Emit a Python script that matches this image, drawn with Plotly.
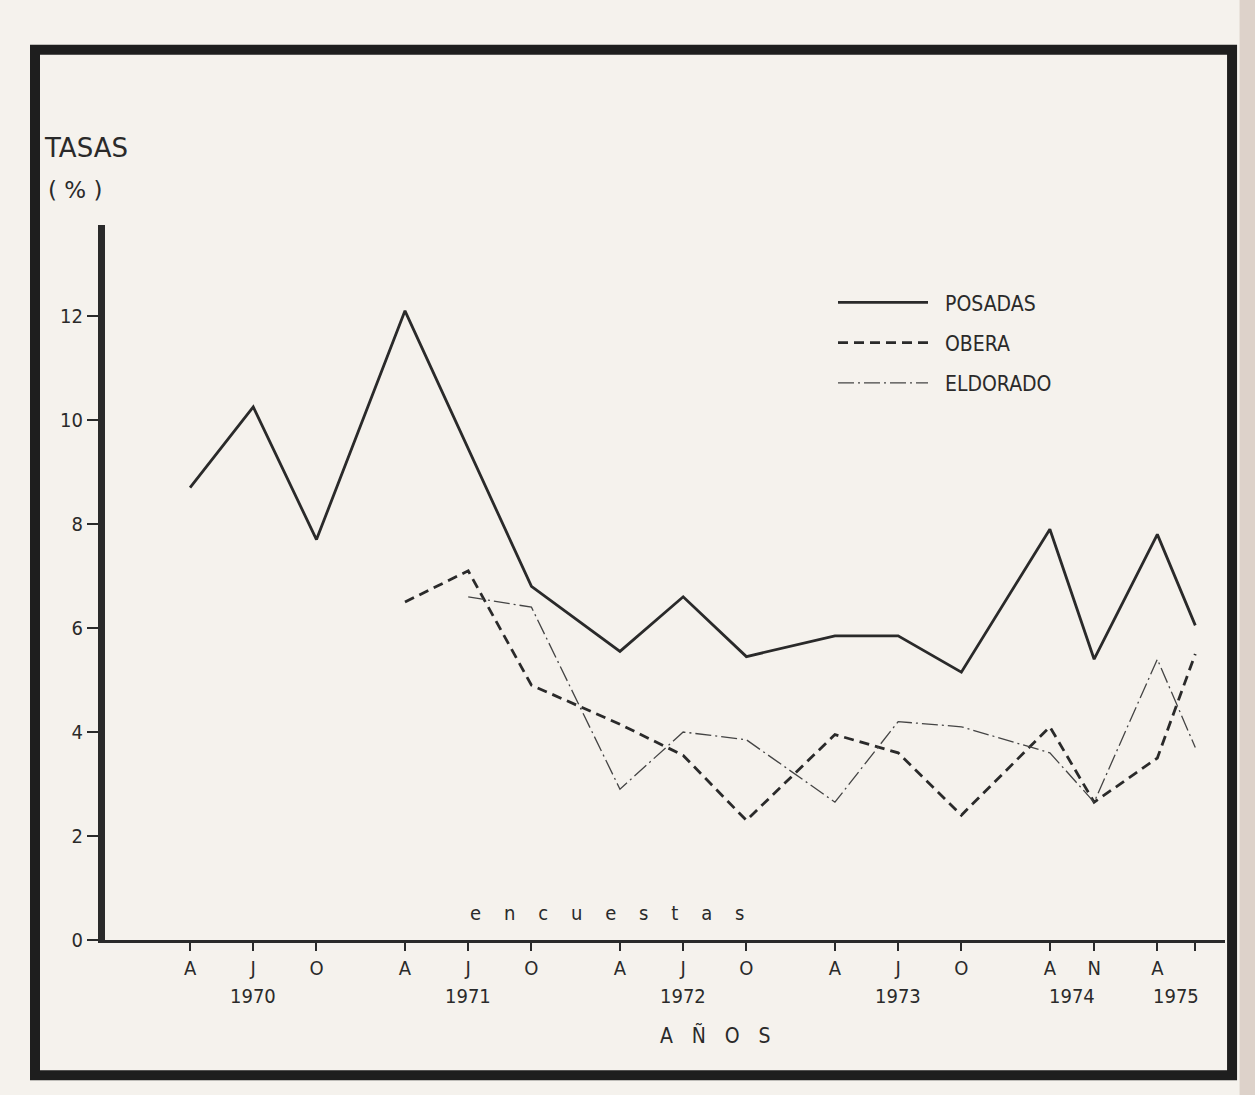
import plotly.graph_objects as go

# ---- data ----
periods = ["A", "J", "O", "A", "J", "O", "A", "J", "O", "A", "J", "O", "A", "N", "A", ""]
years = ["1970"] * 3 + ["1971"] * 3 + ["1972"] * 3 + ["1973"] * 3 + ["1974"] * 2 + ["1975"] * 2
survey_seq = [0, 1, 2, 3.4, 4.4, 5.4, 6.8, 7.8, 8.8, 10.2, 11.2, 12.2, 13.6, 14.3, 15.3, 15.9]

posadas = [8.7, 10.25, 7.7, 12.1, None, 6.8, 5.55, 6.6, 5.45, 5.85, 5.85, 5.15, 7.9, 5.4, 7.8, 6.05]
obera = [None, None, None, 6.5, 7.1, 4.9, 4.15, 3.55, 2.3, 3.95, 3.6, 2.4, 4.1, 2.65, 3.5, 5.5]
eldorado = [None, None, None, None, 6.6, 6.4, 2.9, 4.0, 3.85, 2.65, 4.2, 4.1, 3.6, 2.65, 5.4, 3.7]

y_ticks = [0, 2, 4, 6, 8, 10, 12]

INK = "#2a2a2a"
BG = "#f5f2ed"
FONT = "DejaVu Sans Condensed, DejaVu Sans, sans-serif"
FONT_W = "DejaVu Sans, sans-serif"
PAD = "\u00a0\u00a0"

fig = go.Figure()
fig.add_trace(go.Scatter(x=survey_seq, y=posadas, mode="lines", name=PAD + "POSADAS", legendgroup="p",
                         connectgaps=True, line=dict(color=INK, width=2.8)))
fig.add_trace(go.Scatter(x=survey_seq, y=obera, mode="lines", name=PAD + "OBERA", legendgroup="o",
                         connectgaps=True, line=dict(color=INK, width=2.8, dash="10px,6px")))
fig.add_trace(go.Scatter(x=survey_seq, y=eldorado, mode="lines", name=PAD + "ELDORADO", legendgroup="e",
                         connectgaps=True, line=dict(color="#444", width=1.3, dash="16px,4px,2px,4px")))

x_min = survey_seq[0] - 1.345
x_max = survey_seq[-1] + 0.47

fig.update_xaxes(range=[x_min, x_max], tickmode="array", tickvals=survey_seq, ticktext=periods,
                 showline=True, linewidth=3, linecolor=INK, ticks="outside", ticklen=8,
                 tickwidth=2, tickcolor=INK, showgrid=False, zeroline=False,
                 tickfont=dict(family=FONT, size=20, color=INK))
fig.update_yaxes(range=[0, 13.75], tickmode="array", tickvals=y_ticks,
                 showline=True, linewidth=7, linecolor=INK, ticks="outside", ticklen=11,
                 tickwidth=2, tickcolor=INK, showgrid=False, zeroline=False,
                 tickfont=dict(family=FONT, size=20, color=INK))

annotations = []
seen = []
for yr in years:
    if yr not in seen:
        seen.append(yr)
for yr in seen:
    xs = [p for p, y in zip(survey_seq, years) if y == yr]
    annotations.append(dict(x=sum(xs) / len(xs), y=0, xref="x", yref="paper", text=yr,
                            showarrow=False, yanchor="top", xanchor="center", yshift=-42,
                            font=dict(family=FONT, size=20, color=INK)))

sp = "\u00a0" * 4
annotations.append(dict(x=(survey_seq[4] + survey_seq[8]) / 2, y=0.25, xref="x", yref="y",
                        text=sp.join("encuestas"), showarrow=False, yanchor="bottom",
                        xanchor="center", font=dict(family=FONT, size=20, color=INK)))
annotations.append(dict(x=0.545, y=0, xref="paper", yref="paper", text="\u2003".join("AÑOS"),
                        showarrow=False, yanchor="top", xanchor="center", yshift=-80,
                        font=dict(family=FONT, size=21, color=INK)))
annotations.append(dict(x=0, y=1, xref="paper", yref="paper", text="TASAS", showarrow=False,
                        xanchor="center", yanchor="middle", xshift=-19, yshift=77,
                        font=dict(family=FONT_W, size=26, color=INK)))
annotations.append(dict(x=0, y=1, xref="paper", yref="paper", text="( % )", showarrow=False,
                        xanchor="center", yanchor="middle", xshift=-30, yshift=35,
                        font=dict(family=FONT_W, size=23, color=INK)))

shapes = [
    dict(type="rect", xref="paper", yref="paper", x0=1.013, x1=1.05, y0=-0.5, y1=1.5,
         fillcolor="#ddd2ca", line=dict(width=0), layer="below"),
    dict(type="rect", xref="paper", yref="paper", x0=-0.0625, x1=1.0063, y0=-0.189, y1=1.245,
         line=dict(color="#1e1e1e", width=10), layer="above"),
]

fig.update_layout(
    width=1255, height=1095,
    margin=dict(l=105, r=30, t=225, b=155),
    paper_bgcolor=BG, plot_bgcolor=BG,
    showlegend=True,
    legend=dict(x=0.65, y=0.92, xanchor="left", yanchor="top", bgcolor="rgba(0,0,0,0)",
                font=dict(family=FONT, size=21, color=INK), itemwidth=90, tracegroupgap=10),
    annotations=annotations,
    shapes=shapes,
)

fig.write_html("out.html", config={"displayModeBar": False},
               post_script="document.body.style.margin='0';")
